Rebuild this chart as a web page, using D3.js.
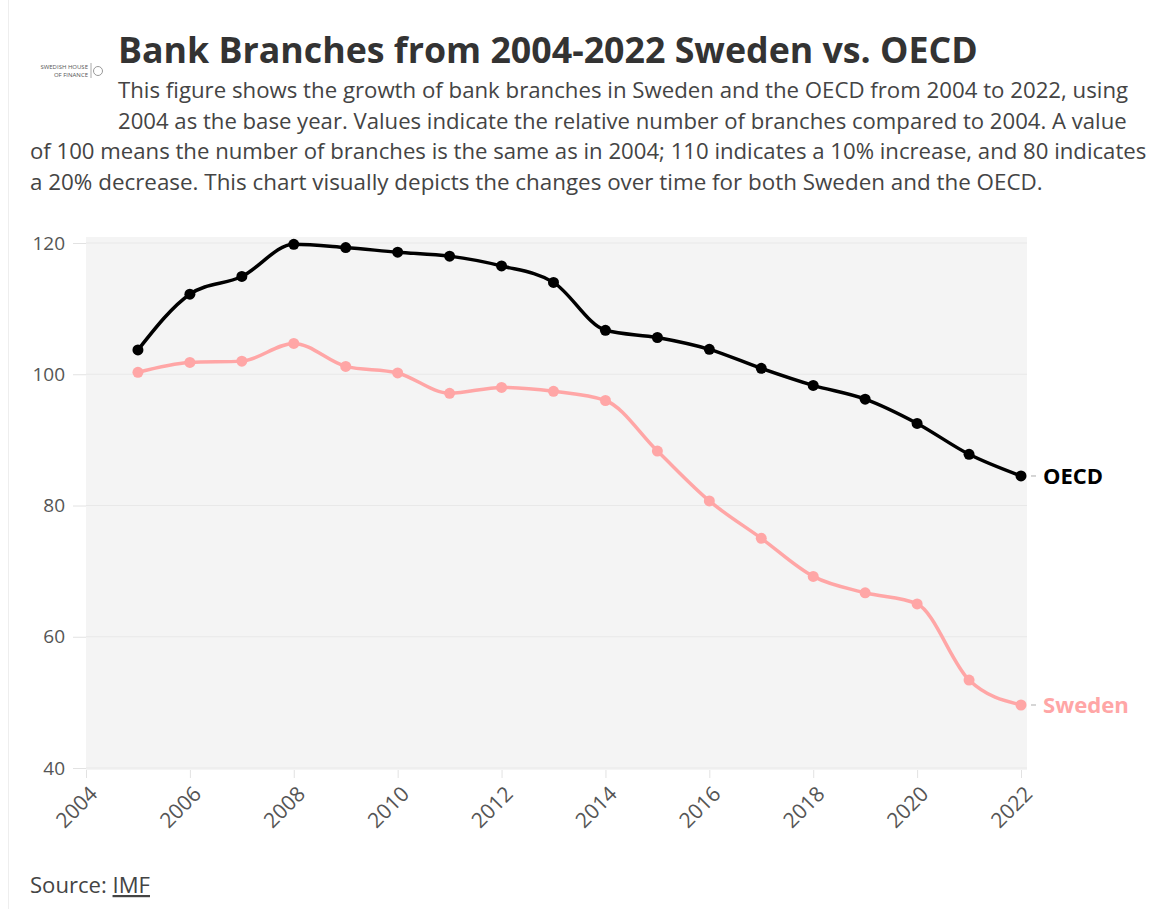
<!DOCTYPE html>
<html>
<head>
<meta charset="utf-8">
<script src="https://cdn.jsdelivr.net/npm/d3@7"></script>
<style>
    body { margin: 0; background: #fff; }
    svg { display: block; font-family: "Open Sans", "Noto Sans", sans-serif; }
</style>
</head>
<body>
<div id="chart"></div>
<script>
// data (index, 2004 = 100)
const years = [2005, 2006, 2007, 2008, 2009, 2010, 2011, 2012, 2013, 2014, 2015, 2016, 2017, 2018, 2019, 2020, 2021, 2022]
const oecd = [103.7, 112.2, 114.9, 119.8, 119.3, 118.6, 118.0, 116.5, 114.0, 106.7, 105.6, 103.8, 100.9, 98.3, 96.2, 92.5, 87.8, 84.5]
const sweden = [100.3, 101.8, 102.0, 104.7, 101.2, 100.2, 97.1, 98.0, 97.4, 96.0, 88.3, 80.7, 75.0, 69.2, 66.7, 65.0, 53.4, 49.6]
const xTicks = [2004, 2006, 2008, 2010, 2012, 2014, 2016, 2018, 2020, 2022]
const yTicks = [40, 60, 80, 100, 120]

const titleText = "Bank Branches from 2004-2022 Sweden vs. OECD"
const subtitleLines = [
    "This figure shows the growth of bank branches in Sweden and the OECD from 2004 to 2022, using",
    "2004 as the base year. Values indicate the relative number of branches compared to 2004. A value",
    "of 100 means the number of branches is the same as in 2004; 110 indicates a 10% increase, and 80 indicates",
    "a 20% decrease. This chart visually depicts the changes over time for both Sweden and the OECD."
]

const WIDTH = 1152, HEIGHT = 909
const MARGIN = { LEFT: 86, RIGHT: 125, TOP: 243, BOTTOM: 141 }
const W = WIDTH - MARGIN.LEFT - MARGIN.RIGHT
const H = HEIGHT - MARGIN.TOP - MARGIN.BOTTOM

// shrink/grow a text's font size so it spans the given width
function fitWidth(sel, target) {
    sel.each(function () {
        const size = parseFloat(d3.select(this).attr("font-size"))
        const len = this.getComputedTextLength()
        d3.select(this).attr("font-size", (size * target / len).toFixed(2) + "px")
    })
}

const svg = d3.select("#chart").append("svg")
    .attr("width", WIDTH)
    .attr("height", HEIGHT)

// faint page edge on the left
svg.append("line")
    .attr("x1", 8.5).attr("x2", 8.5)
    .attr("y1", 0).attr("y2", HEIGHT)
    .attr("stroke", "#eeeeee")

// logo stand-in
const logo = svg.append("g").attr("fill", "#555").attr("font-size", 6)
logo.append("text").attr("x", 88).attr("y", 69).attr("text-anchor", "end").text("SWEDISH HOUSE")
logo.append("text").attr("x", 88).attr("y", 77).attr("text-anchor", "end").text("OF FINANCE")
logo.append("line").attr("x1", 91).attr("x2", 91).attr("y1", 63).attr("y2", 78).attr("stroke", "#aaa")
logo.append("circle").attr("cx", 98).attr("cy", 71).attr("r", 4.5).attr("fill", "none").attr("stroke", "#999")

// title + subtitle
svg.append("text")
    .attr("x", 118)
    .attr("y", 63)
    .attr("font-size", "32px")
    .attr("font-weight", "bold")
    .attr("fill", "#333")
    .text(titleText)
    .call(fitWidth, 860)

const subX = [118, 118, 30, 30]
const subW = [1010, 1009, 1117, 1013]
svg.selectAll(".subtitle")
    .data(subtitleLines)
    .enter().append("text")
    .attr("class", "subtitle")
    .attr("x", (d, i) => subX[i])
    .attr("y", (d, i) => 98 + i * 30.7)
    .attr("font-size", "19px")
    .attr("fill", "#444")
    .text(d => d)
    .each(function (d, i) { d3.select(this).call(fitWidth, subW[i]) })

const g = svg.append("g")
    .attr("transform", `translate(${MARGIN.LEFT}, ${MARGIN.TOP})`)

const x = d3.scaleLinear().domain([2004, 2022]).range([0, W - 6])
const y = d3.scaleLinear().domain([40, 120]).range([H, 0])

// plot background
g.append("rect")
    .attr("x", 0)
    .attr("y", -6)
    .attr("width", W)
    .attr("height", H + 8)
    .attr("fill", "#f4f4f4")

// gridlines
g.selectAll(".grid")
    .data(yTicks)
    .enter().append("line")
    .attr("class", "grid")
    .attr("x1", 0).attr("x2", W)
    .attr("y1", d => y(d)).attr("y2", d => y(d))
    .attr("stroke", "#e8e8e8")

// Y axis
const yAxis = g.append("g")
    .attr("class", "y axis")
    .call(d3.axisLeft(y).tickValues(yTicks).tickSize(13).tickPadding(8))
yAxis.select(".domain").remove()
yAxis.selectAll(".tick line").attr("stroke", "#e2e2e2")
yAxis.selectAll(".tick text")
    .attr("fill", "#555")
    .attr("font-size", "19px")
    .attr("font-family", "Open Sans, sans-serif")

// X axis
const xAxis = g.append("g")
    .attr("class", "x axis")
    .attr("transform", `translate(0, ${H + 2})`)
    .call(d3.axisBottom(x).tickValues(xTicks).tickFormat(d3.format("d")).tickSize(8).tickPadding(8))
xAxis.select(".domain").remove()
xAxis.selectAll(".tick line").attr("stroke", "#e2e2e2")
xAxis.selectAll(".tick text")
    .attr("fill", "#555")
    .attr("font-size", "21px")
    .attr("font-family", "Open Sans, sans-serif")
    .attr("text-anchor", "end")
    .attr("y", 0)
    .attr("dy", "0.35em")
    .attr("transform", "translate(7, 20) rotate(-45)")

const series = [
    { name: "OECD", values: oecd, color: "#000000", labelW: 60 },
    { name: "Sweden", values: sweden, color: "#ffa6a6", labelW: 86 }
]

const line = d3.line()
    .x(d => x(d[0]))
    .y(d => y(d[1]))
    .curve(d3.curveMonotoneX)

series.forEach(s => {
    const pts = years.map((yr, i) => [yr, s.values[i]])
    g.append("path")
        .datum(pts)
        .attr("fill", "none")
        .attr("stroke", s.color)
        .attr("stroke-width", 3.5)
        .attr("stroke-linejoin", "round")
        .attr("d", line)

    g.selectAll(null)
        .data(pts)
        .enter().append("circle")
        .attr("cx", d => x(d[0]))
        .attr("cy", d => y(d[1]))
        .attr("r", 5.5)
        .attr("fill", s.color)

    // end label
    const last = pts[pts.length - 1]
    g.append("line")
        .attr("x1", x(last[0]) + 10).attr("x2", x(last[0]) + 15)
        .attr("y1", y(last[1])).attr("y2", y(last[1]))
        .attr("stroke", "#c8c8c8")
        .attr("stroke-width", 1.5)
    g.append("text")
        .attr("x", x(last[0]) + 22)
        .attr("y", y(last[1]))
        .attr("dy", "0.36em")
        .attr("font-size", "19px")
        .attr("font-weight", "bold")
        .attr("fill", s.color)
        .text(s.name)
        .call(fitWidth, s.labelW)
})

// source
const src = svg.append("text")
    .attr("x", 30)
    .attr("y", 893)
    .attr("font-size", "18px")
    .attr("fill", "#444")
src.append("tspan").text("Source: ")
src.append("tspan").attr("text-decoration", "underline").text("IMF")
src.call(fitWidth, 120)
</script>
</body>
</html>
